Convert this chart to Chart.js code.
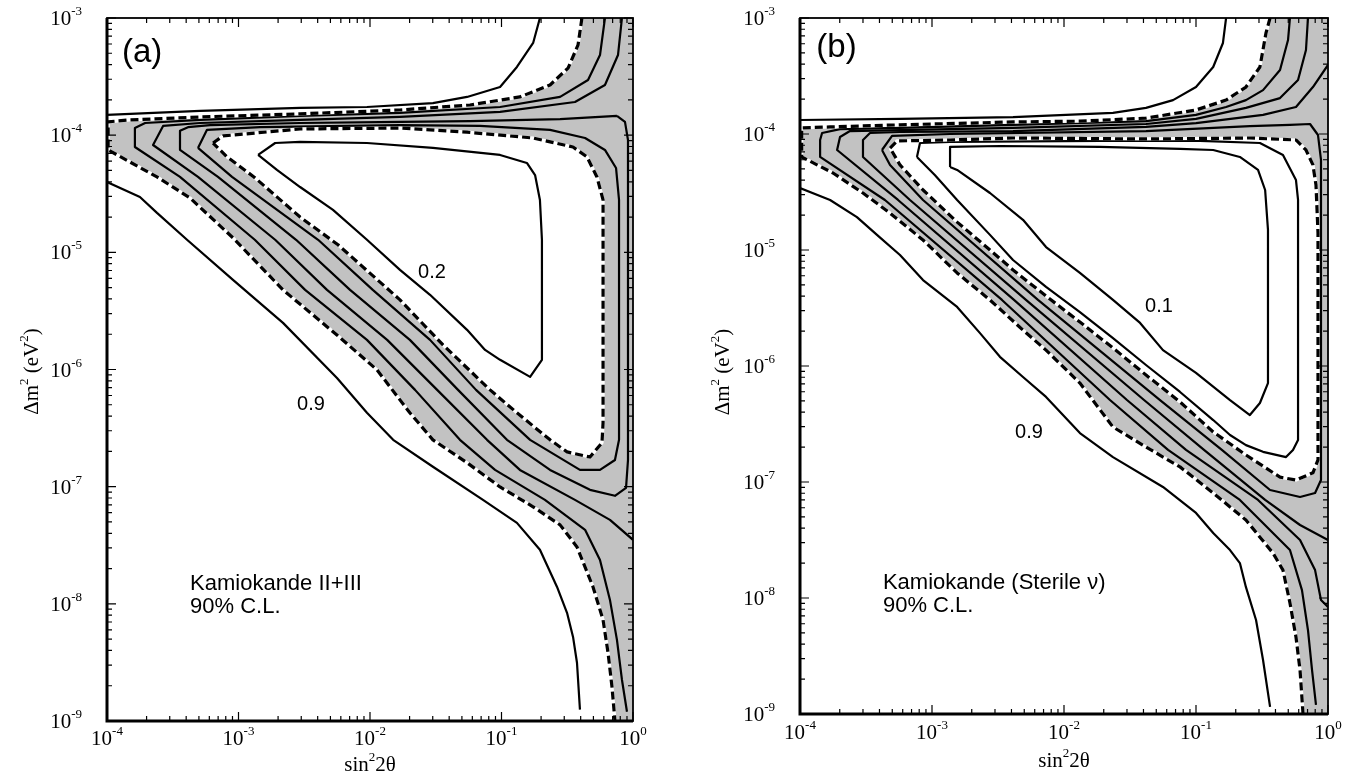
<!DOCTYPE html>
<html><head><meta charset="utf-8">
<script src="https://cdn.jsdelivr.net/npm/chart.js@4.4.1/dist/chart.umd.min.js"></script>
<style>
html,body{margin:0;padding:0;background:#fff;}
body{width:1353px;height:775px;position:relative;overflow:hidden;}
.panel{position:absolute;top:0;height:775px;}
#wa{left:0;width:676px;} #wb{left:676px;width:677px;}
canvas{display:block;}
</style></head><body>
<div class="panel" id="wa"><canvas id="ca" width="676" height="775"></canvas></div>
<div class="panel" id="wb"><canvas id="cb" width="677" height="775"></canvas></div>
<script>
// ---------- axis ranges & tick labels ----------
const X_MIN = 1e-4, X_MAX = 1, Y_MIN = 1e-9, Y_MAX = 1e-3;
const X_DECADES = [-4, -3, -2, -1, 0];
const Y_DECADES = [-9, -8, -7, -6, -5, -4, -3];
const TICK_MANT = [1, 2, 3, 4, 5, 6, 7, 8, 9];

// ---------- panel (a): Kamiokande II+III  [sin^2 2theta, dm^2 (eV^2)] ----------
const A_c09_up = [[1.0e-4,1.49e-4],[5.1e-4,1.61e-4],[2.94e-3,1.71e-4],[9.48e-3,1.74e-4],[3.01e-2,1.88e-4],[5.47e-2,2.12e-4],[9.75e-2,2.58e-4],[1.31e-1,3.82e-4],[1.74e-1,6.12e-4],[1.96e-1,1.0e-3]];
const A_c09_lo = [[1.0e-4,3.99e-5],[1.78e-4,2.97e-5],[2.40e-4,2.17e-5],[4.06e-4,1.28e-5],[9.08e-4,5.82e-6],[2.18e-3,2.50e-6],[5.61e-3,8.47e-7],[9.48e-3,4.27e-7],[1.50e-2,2.51e-7],[3.01e-2,1.48e-7],[7.23e-2,7.71e-8],[1.31e-1,4.91e-8],[1.96e-1,2.89e-8],[2.64e-1,1.40e-8],[3.15e-1,8.38e-9],[3.50e-1,5.22e-9],[3.75e-1,3.14e-9],[3.95e-1,1.25e-9]];
const A_dash_out = [[4.09e-1,1.0e-3],[3.82e-1,5.89e-4],[3.21e-1,3.74e-4],[2.34e-1,2.68e-4],[1.38e-1,2.12e-4],[5.76e-2,1.81e-4],[1.69e-2,1.64e-4],[2.94e-3,1.52e-4],[5.10e-4,1.43e-4],[1.50e-4,1.35e-4],[1.02e-4,1.30e-4],[1.02e-4,7.48e-5],[2.40e-4,4.40e-5],[4.28e-4,2.91e-5],[9.08e-4,1.33e-5],[2.18e-3,4.78e-6],[5.61e-3,1.97e-6],[1.13e-2,9.93e-7],[2.01e-2,4.27e-7],[3.01e-2,2.51e-7],[5.47e-2,1.60e-7],[9.75e-2,9.95e-8],[1.74e-1,6.73e-8],[2.79e-1,4.72e-8],[3.75e-1,3.06e-8],[4.96e-1,1.40e-8],[5.92e-1,7.29e-9],[6.46e-1,3.82e-9],[6.92e-1,1.96e-9],[7.29e-1,1.0e-9]];
const A_s1 = [[6.12e-1,1.0e-3],[5.61e-1,4.83e-4],[4.55e-1,2.96e-4],[2.79e-1,2.12e-4],[9.75e-2,1.74e-4],[1.69e-2,1.55e-4],[2.94e-3,1.46e-4],[5.10e-4,1.35e-4],[1.95e-4,1.27e-4],[1.63e-4,1.15e-4],[1.63e-4,7.92e-5],[3.59e-4,4.40e-5],[1.33e-3,1.28e-5],[3.21e-3,4.78e-6],[9.48e-3,1.79e-6],[2.20e-2,6.70e-7],[4.83e-2,2.51e-7],[8.93e-2,1.39e-7],[2.14e-1,7.71e-8],[4.32e-1,4.28e-8],[5.61e-1,2.37e-8],[6.68e-1,1.08e-8],[7.55e-1,4.93e-9],[8.24e-1,2.25e-9],[9.00e-1,1.20e-9]];
const A_s2 = [[8.24e-1,1.0e-3],[7.69e-1,4.83e-4],[6.12e-1,2.68e-4],[3.62e-1,1.92e-4],[9.75e-2,1.58e-4],[1.69e-2,1.43e-4],[2.94e-3,1.35e-4],[5.10e-4,1.27e-4],[2.67e-4,1.20e-4],[2.24e-4,8.24e-5],[4.92e-4,4.40e-5],[1.90e-3,1.28e-5],[4.71e-3,4.78e-6],[1.35e-2,1.79e-6],[3.24e-2,6.70e-7],[7.76e-2,2.51e-7],[1.38e-1,1.39e-7],[3.62e-1,7.71e-8],[6.68e-1,5.21e-8],[1.0,3.52e-8]];
const A_s3 = [[7.55e-1,1.46e-4],[2.79e-1,1.37e-4],[5.76e-2,1.32e-4],[1.69e-2,1.30e-4],[2.94e-3,1.27e-4],[6.07e-4,1.22e-4],[4.13e-4,1.17e-4],[3.59e-4,1.09e-4],[3.59e-4,7.48e-5],[6.98e-4,4.40e-5],[2.74e-3,1.28e-5],[7.05e-3,4.78e-6],[2.01e-2,1.79e-6],[4.67e-2,6.70e-7],[1.10e-1,2.51e-7],[2.34e-1,1.39e-7],[4.71e-1,9.40e-8],[7.29e-1,8.36e-8],[8.85e-1,9.77e-8],[9.16e-1,1.69e-7],[9.16e-1,9.10e-5],[8.69e-1,1.30e-4],[7.55e-1,1.46e-4]];
const A_s4 = [[4.92e-4,7.78e-5],[5.76e-4,1.11e-4],[1.46e-3,1.17e-4],[1.69e-2,1.22e-4],[6.87e-2,1.20e-4],[2.34e-1,1.11e-4],[4.32e-1,9.46e-5],[6.12e-1,7.48e-5],[7.43e-1,5.25e-5],[7.83e-1,2.80e-5],[7.83e-1,2.51e-7],[7.29e-1,1.69e-7],[5.61e-1,1.39e-7],[3.95e-1,1.39e-7],[1.65e-1,2.51e-7],[6.40e-2,6.70e-7],[2.86e-2,1.79e-6],[1.05e-2,4.78e-6],[4.03e-3,1.28e-5],[8.93e-4,4.40e-5],[4.92e-4,7.78e-5]];
const A_dash_in = [[6.40e-4,8.57e-5],[7.62e-4,9.85e-5],[2.94e-3,1.13e-4],[1.69e-2,1.15e-4],[5.47e-2,1.06e-4],[1.74e-1,9.46e-5],[3.50e-1,7.92e-5],[4.47e-1,6.52e-5],[5.32e-1,4.40e-5],[5.92e-1,2.80e-5],[5.92e-1,3.50e-7],[5.81e-1,2.37e-7],[4.71e-1,1.79e-7],[3.15e-1,1.98e-7],[2.34e-1,2.51e-7],[1.31e-1,4.27e-7],[8.18e-2,6.70e-7],[3.59e-2,1.62e-6],[1.69e-2,3.93e-6],[5.71e-3,1.16e-5],[2.94e-3,2.00e-5],[1.31e-3,4.40e-5],[8.18e-4,6.52e-5],[6.40e-4,8.57e-5]];
const A_c02 = [[1.41e-3,6.78e-5],[1.90e-3,8.57e-5],[2.94e-3,8.75e-5],[9.48e-3,8.57e-5],[3.01e-2,7.78e-5],[9.75e-2,6.78e-5],[1.56e-1,5.79e-5],[1.80e-1,4.57e-5],[1.96e-1,2.80e-5],[2.03e-1,1.28e-5],[2.03e-1,1.21e-6],[1.65e-1,8.65e-7],[9.75e-2,1.21e-6],[7.50e-2,1.47e-6],[5.47e-2,2.18e-6],[2.86e-2,4.34e-6],[1.69e-2,7.08e-6],[9.48e-3,1.28e-5],[5.23e-3,2.30e-5],[2.94e-3,3.61e-5],[1.96e-3,5.05e-5],[1.41e-3,6.78e-5]];
const A_labels = [
  {t:'(a)', x:1.30e-4, y:4.22e-4, kind:'panel'},
  {t:'0.2', x:2.32e-2, y:6.05e-6, kind:'level'},
  {t:'0.9', x:2.79e-3, y:4.52e-7, kind:'level'},
  {t:'Kamiokande II+III', x:4.28e-4, y:1.31e-8, kind:'note'},
  {t:'90% C.L.', x:4.28e-4, y:8.38e-9, kind:'note'}
];

// ---------- panel (b): Kamiokande (sterile nu) ----------
const B_c09_up = [[1.0e-4,1.32e-4],[5.72e-4,1.35e-4],[4.11e-3,1.40e-4],[2.35e-2,1.52e-4],[4.18e-2,1.68e-4],[6.70e-2,1.96e-4],[1.0e-1,2.54e-4],[1.35e-1,3.78e-4],[1.60e-1,6.09e-4],[1.69e-1,1.0e-3]];
const B_c09_lo = [[1.0e-4,3.42e-5],[1.69e-4,2.70e-5],[2.70e-4,1.92e-5],[3.83e-4,1.35e-5],[5.72e-4,9.06e-6],[8.55e-4,5.51e-6],[1.55e-3,3.23e-6],[2.31e-3,1.92e-6],[3.27e-3,1.20e-6],[4.89e-3,8.04e-7],[7.31e-3,5.41e-7],[1.32e-2,2.64e-7],[2.35e-2,1.64e-7],[5.62e-2,9.06e-8],[1.0e-1,5.41e-8],[1.35e-1,3.63e-8],[1.81e-1,2.59e-8],[2.15e-1,2.00e-8],[2.39e-1,1.24e-8],[2.85e-1,6.46e-9],[3.22e-1,2.92e-9],[3.64e-1,1.15e-9]];
const B_dash_out = [[3.64e-1,1.0e-3],[3.39e-1,7.43e-4],[3.05e-1,3.78e-4],[2.39e-1,2.54e-4],[1.69e-1,1.96e-4],[1.0e-1,1.61e-4],[4.18e-2,1.37e-4],[1.32e-2,1.29e-4],[4.11e-3,1.27e-4],[5.72e-4,1.20e-4],[1.69e-4,1.15e-4],[1.03e-4,1.13e-4],[1.03e-4,6.34e-5],[1.78e-4,4.61e-5],[3.00e-4,3.10e-5],[4.81e-4,2.08e-5],[8.55e-4,1.22e-5],[1.55e-3,6.34e-6],[2.75e-3,3.71e-6],[4.89e-3,2.04e-6],[7.31e-3,1.37e-6],[1.32e-2,7.13e-7],[2.35e-2,2.98e-7],[4.18e-2,2.00e-7],[7.57e-2,1.35e-7],[1.35e-1,8.04e-8],[2.39e-1,4.70e-8],[3.83e-1,2.44e-8],[4.56e-1,1.74e-8],[5.15e-1,9.06e-9],[5.72e-1,4.61e-9],[6.14e-1,2.39e-9],[6.47e-1,1.0e-9]];
const B_s1 = [[5.15e-1,1.0e-3],[4.98e-1,6.46e-4],[4.33e-1,3.56e-4],[3.22e-1,2.39e-4],[2.39e-1,1.96e-4],[1.69e-1,1.71e-4],[1.0e-1,1.46e-4],[4.18e-2,1.29e-4],[4.11e-3,1.20e-4],[5.72e-4,1.13e-4],[2.01e-4,1.10e-4],[1.47e-4,1.02e-4],[1.42e-4,8.88e-5],[1.42e-4,6.34e-5],[4.40e-4,2.70e-5],[3.39e-3,3.71e-6],[2.23e-2,5.09e-7],[6.14e-2,1.89e-7],[2.15e-1,7.00e-8],[5.15e-1,2.59e-8],[6.35e-1,1.17e-8],[7.05e-1,5.30e-9],[7.57e-1,2.39e-9],[8.11e-1,1.20e-9]];
const B_s2 = [[7.05e-1,1.0e-3],[6.81e-1,5.30e-4],[5.93e-1,2.92e-4],[4.33e-1,2.04e-4],[2.39e-1,1.68e-4],[1.0e-1,1.35e-4],[4.18e-2,1.22e-4],[4.11e-3,1.13e-4],[5.72e-4,1.08e-4],[2.39e-4,1.06e-4],[2.01e-4,9.43e-5],[1.91e-4,7.28e-5],[5.53e-4,2.70e-5],[4.18e-3,3.71e-6],[3.00e-2,5.09e-7],[8.40e-2,1.89e-7],[2.95e-1,7.00e-8],[6.14e-1,3.16e-8],[7.98e-1,1.74e-8],[8.85e-1,9.62e-9],[1.0,8.36e-9]];
const B_s3 = [[1.0,3.94e-4],[7.69e-1,2.54e-4],[5.72e-1,1.71e-4],[3.22e-1,1.46e-4],[1.0e-1,1.24e-4],[4.18e-2,1.15e-4],[4.11e-3,1.06e-4],[5.72e-4,1.04e-4],[3.39e-4,1.02e-4],[3.00e-4,8.88e-5],[3.00e-4,6.34e-5],[6.81e-4,2.70e-5],[5.15e-3,3.71e-6],[4.04e-2,5.09e-7],[1.15e-1,1.89e-7],[3.34e-1,7.00e-8],[6.14e-1,4.26e-8],[1.0,3.16e-8]];
const B_s4 = [[4.18e-4,7.28e-5],[4.98e-4,9.62e-5],[1.37e-3,1.0e-4],[4.18e-2,1.06e-4],[2.56e-1,1.17e-4],[5.15e-1,1.20e-4],[7.31e-1,1.22e-4],[8.40e-1,9.80e-5],[8.85e-1,5.97e-5],[8.85e-1,1.04e-7],[7.98e-1,8.04e-8],[6.14e-1,7.43e-8],[3.64e-1,8.53e-8],[1.57e-1,1.89e-7],[5.34e-2,5.09e-7],[6.35e-3,3.71e-6],[8.55e-4,2.70e-5],[4.81e-4,5.41e-5],[4.18e-4,7.28e-5]];
const B_dash_in = [[4.81e-4,7.57e-5],[5.43e-4,8.71e-5],[1.37e-3,8.88e-5],[4.11e-3,9.24e-5],[4.18e-2,9.06e-5],[2.56e-1,9.24e-5],[5.72e-1,8.88e-5],[6.81e-1,7.28e-5],[7.69e-1,5.41e-5],[8.11e-1,3.63e-5],[8.40e-1,1.40e-5],[8.40e-1,1.55e-7],[7.69e-1,1.20e-7],[5.72e-1,1.04e-7],[4.33e-1,1.10e-7],[2.39e-1,1.71e-7],[1.35e-1,2.70e-7],[7.57e-2,4.90e-7],[4.18e-2,8.36e-7],[2.35e-2,1.43e-6],[1.32e-2,2.39e-6],[7.31e-3,4.01e-6],[4.11e-3,6.73e-6],[2.75e-3,1.0e-5],[1.55e-3,1.74e-5],[8.55e-4,3.29e-5],[5.72e-4,5.41e-5],[4.81e-4,7.57e-5]];
const B_i2 = [[7.69e-4,6.34e-5],[8.11e-4,8.36e-5],[1.37e-3,8.53e-5],[1.87e-2,8.71e-5],[1.07e-1,8.71e-5],[3.05e-1,8.36e-5],[4.56e-1,6.59e-5],[5.72e-1,4.01e-5],[5.93e-1,2.70e-5],[5.93e-1,2.30e-7],[5.43e-1,1.89e-7],[4.81e-1,1.64e-7],[3.22e-1,1.82e-7],[2.39e-1,2.08e-7],[1.81e-1,2.54e-7],[1.35e-1,3.42e-7],[7.57e-2,5.97e-7],[4.18e-2,1.02e-6],[2.35e-2,1.74e-6],[1.32e-2,2.92e-6],[7.31e-3,4.80e-6],[4.11e-3,8.20e-6],[2.75e-3,1.35e-5],[1.55e-3,2.70e-5],[1.05e-3,4.44e-5],[7.69e-4,6.34e-5]];
const B_c01 = [[1.37e-3,5.20e-5],[1.37e-3,7.73e-5],[3.27e-3,7.88e-5],[1.87e-2,7.73e-5],[7.57e-2,7.43e-5],[1.35e-1,7.28e-5],[2.15e-1,6.34e-5],[2.95e-1,4.90e-5],[3.34e-1,3.29e-5],[3.51e-1,1.49e-5],[3.51e-1,7.13e-7],[3.05e-1,4.80e-7],[2.56e-1,3.78e-7],[1.81e-1,5.09e-7],[1.0e-1,8.71e-7],[5.62e-2,1.37e-6],[3.77e-2,2.35e-6],[2.35e-2,3.71e-6],[1.32e-2,6.34e-6],[7.31e-3,1.06e-5],[4.89e-3,1.82e-5],[2.75e-3,3.10e-5],[1.55e-3,4.90e-5],[1.37e-3,5.20e-5]];
const B_labels = [
  {t:'(b)', x:1.33e-4, y:4.61e-4, kind:'panel'},
  {t:'0.1', x:4.11e-2, y:2.92e-6, kind:'level'},
  {t:'0.9', x:4.26e-3, y:2.39e-7, kind:'level'},
  {t:'Kamiokande (Sterile \u03bd)', x:4.25e-4, y:1.20e-8, kind:'note'},
  {t:'90% C.L.', x:4.25e-4, y:7.57e-9, kind:'note'}
];

// ---------- styling ----------
const GRAY = '#c2c2c2';
const SERIF = '"Liberation Serif", "DejaVu Serif", serif';
const SANS = '"Liberation Sans", Arial, sans-serif';
const FONTS = {panel: '33px ' + SANS, level: '20px ' + SANS, note: '22px ' + SANS};

const P = arr => arr.map(([x, y]) => ({x, y}));

function buildDatasets(outer, inner, solids) {
  const ds = [];
  ds.push({data: P([...outer, [X_MAX, Y_MIN], [X_MAX, Y_MAX]]), fill: 'shape', backgroundColor: GRAY, borderWidth: 0, borderColor: 'rgba(0,0,0,0)', order: 20});
  ds.push({data: P(inner), fill: 'shape', backgroundColor: '#ffffff', borderWidth: 0, borderColor: 'rgba(0,0,0,0)', order: 19});
  solids.forEach(s => ds.push({data: P(s), borderColor: '#000', borderWidth: 2.2, fill: false, order: 6}));
  [outer, inner].forEach(s => {
    ds.push({data: P(s), borderColor: '#fff', borderWidth: 3.2, fill: false, order: 5});
    ds.push({data: P(s), borderColor: '#000', borderWidth: 3.2, borderDash: [8, 4], fill: false, order: 4});
  });
  ds.forEach(d => { d.showLine = true; d.pointRadius = 0; d.pointHoverRadius = 0; d.tension = 0; d.borderJoinStyle = 'round'; });
  return ds;
}

function drawRuns(ctx, runs, x, y, align) {
  let w = 0;
  runs.forEach(r => { ctx.font = r.font; r.w = ctx.measureText(r.t).width; w += r.w; });
  let cx = align === 'center' ? x - w / 2 : (align === 'right' ? x - w : x);
  runs.forEach(r => { ctx.font = r.font; ctx.fillText(r.t, cx, y + (r.dy || 0)); cx += r.w; });
}
const powRuns = e => [{t: '10', font: '21px ' + SERIF}, {t: String(e), font: '13px ' + SERIF, dy: -10}];

function makeDeco(cfg) {
  return {
    id: 'deco',
    afterDatasetsDraw(chart) {
      const {ctx, chartArea: A, scales: {x, y}} = chart;
      ctx.save();
      ctx.strokeStyle = '#000';
      ctx.lineWidth = 1.2;
      ctx.beginPath();
      X_DECADES.forEach(e => TICK_MANT.forEach(m => {
        const v = m * Math.pow(10, e);
        if (v > X_MAX * 1.0001) return;
        const p = x.getPixelForValue(v), L = m === 1 ? 9 : 5;
        ctx.moveTo(p, A.bottom); ctx.lineTo(p, A.bottom - L);
        ctx.moveTo(p, A.top); ctx.lineTo(p, A.top + L);
      }));
      Y_DECADES.forEach(e => TICK_MANT.forEach(m => {
        const v = m * Math.pow(10, e);
        if (v > Y_MAX * 1.0001) return;
        const p = y.getPixelForValue(v), L = m === 1 ? 9 : 5;
        ctx.moveTo(A.left, p); ctx.lineTo(A.left + L, p);
        ctx.moveTo(A.right, p); ctx.lineTo(A.right - L, p);
      }));
      ctx.stroke();
      ctx.lineWidth = 1.8;
      ctx.strokeRect(A.left, A.top, A.right - A.left, A.bottom - A.top);
      ctx.lineWidth = 3;
      ctx.beginPath();
      ctx.moveTo(A.left, A.top); ctx.lineTo(A.left, A.bottom); ctx.lineTo(A.right, A.bottom);
      ctx.stroke();

      ctx.fillStyle = '#000';
      ctx.textAlign = 'left';
      ctx.textBaseline = 'alphabetic';
      X_DECADES.forEach(e => drawRuns(ctx, powRuns(e), x.getPixelForValue(Math.pow(10, e)), A.bottom + cfg.xLabDy, 'center'));
      Y_DECADES.forEach(e => drawRuns(ctx, powRuns(e), A.left - 25, y.getPixelForValue(Math.pow(10, e)) + 7, 'right'));

      const big = '21px ' + SERIF, sup = '13px ' + SERIF;
      drawRuns(ctx, [{t: 'sin', font: big}, {t: '2', font: sup, dy: -10}, {t: '2\u03b8', font: big}],
        (A.left + A.right) / 2, A.bottom + cfg.xTitleDy, 'center');
      ctx.save();
      ctx.translate(A.left - cfg.yTitleDx, (A.top + A.bottom) / 2 + cfg.yTitleDy);
      ctx.rotate(-Math.PI / 2);
      drawRuns(ctx, [{t: '\u0394m', font: big}, {t: '2', font: sup, dy: -10}, {t: ' (eV', font: big}, {t: '2', font: sup, dy: -10}, {t: ')', font: big}], 0, 0, 'center');
      ctx.restore();

      cfg.labels.forEach(l => {
        ctx.font = FONTS[l.kind];
        ctx.fillText(l.t, x.getPixelForValue(l.x), y.getPixelForValue(l.y));
      });
      ctx.restore();
    }
  };
}

function makeChart(id, datasets, pad, cfg) {
  return new Chart(document.getElementById(id), {
    type: 'scatter',
    data: {datasets},
    options: {
      responsive: false, animation: false, devicePixelRatio: 1, events: [],
      layout: {padding: pad},
      plugins: {legend: {display: false}, tooltip: {enabled: false}},
      scales: {
        x: {type: 'logarithmic', min: X_MIN, max: X_MAX, ticks: {display: false}, grid: {display: false, drawTicks: false}, border: {display: false}, afterFit: s => { s.height = 0; }},
        y: {type: 'logarithmic', min: Y_MIN, max: Y_MAX, ticks: {display: false}, grid: {display: false, drawTicks: false}, border: {display: false}, afterFit: s => { s.width = 0; }}
      }
    },
    plugins: [makeDeco(cfg)]
  });
}

makeChart('ca',
  buildDatasets(A_dash_out, A_dash_in, [A_c09_up, A_c09_lo, A_s1, A_s2, A_s3, A_s4, A_c02]),
  {left: 107, right: 43, top: 18, bottom: 54},
  {labels: A_labels, xLabDy: 24, xTitleDy: 50, yTitleDx: 69, yTitleDy: 2});

makeChart('cb',
  buildDatasets(B_dash_out, B_dash_in, [B_c09_up, B_c09_lo, B_s1, B_s2, B_s3, B_s4, B_i2, B_c01]),
  {left: 124, right: 25, top: 18, bottom: 61},
  {labels: B_labels, xLabDy: 25, xTitleDy: 53, yTitleDx: 71, yTitleDy: 6});
</script>
</body></html>
